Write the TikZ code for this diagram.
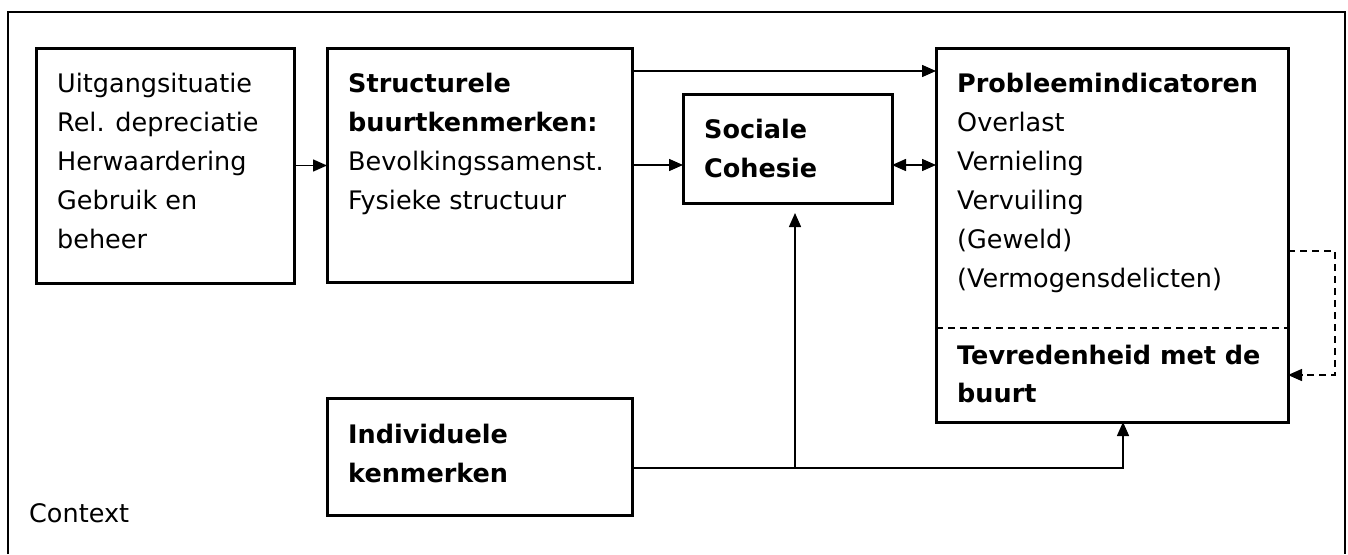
\documentclass[tikz,border=0pt]{standalone}
\usepackage{fontspec}
\setmainfont{DejaVu Sans}
\usetikzlibrary{arrows.meta}
\tikzset{
  box/.style={draw, line width=3pt, outer sep=0pt, inner sep=0pt},
  txt/.style={anchor=north west, inner sep=0pt, align=left, font=\fontsize{25.5}{39}\selectfont},
  arr/.style={line width=1.5pt, -{Triangle[length=14pt,width=12pt]}},
  dblarr/.style={line width=1.5pt, {Triangle[length=14pt,width=12pt]}-{Triangle[length=14pt,width=12pt]}},
  dashline/.style={line width=1.5pt, dash pattern=on 7pt off 5pt},
}
\begin{document}
\begin{tikzpicture}[x=1pt,y=-1pt]
    \useasboundingbox (0,0) rectangle (1348,554);
    %kader
    \draw[line width=2pt] (8,554) -- (8,12) -- (1345,12) -- (1345,554);
    \node[txt, anchor=base west] (context) at (29,522) {Context};

    %blokken
    \node[box, minimum width=258pt, minimum height=235pt] (uitg) at (165,165.5) {};
    \node[box, minimum width=305pt, minimum height=234pt] (struct) at (479.5,165) {};
    \node[box, minimum width=209pt, minimum height=109pt] (cohesie) at (787.5,148.5) {};
    \node[box, minimum width=352pt, minimum height=374pt] (probleem) at (1112,235) {};
    \node[box, minimum width=305pt, minimum height=117pt] (indiv) at (479.5,456.5) {};

    %teksten
    \node[txt] (uitgtxt) at ([shift={(21,16.7)}]uitg.north west)
      {\strut Uitgangsituatie\\Rel. depreciatie\\Herwaardering\\Gebruik en\\beheer};
    \node[txt] (structtxt) at ([shift={(21,16.7)}]struct.north west)
      {\strut\textbf{Structurele}\\\textbf{buurtkenmerken:}\\Bevolkingssamenst.\\Fysieke structuur};
    \node[txt] (cohesietxt) at ([shift={(21,16.7)}]cohesie.north west)
      {\strut\textbf{Sociale}\\\textbf{Cohesie}};
    \node[txt] (probleemtxt) at ([shift={(21,16.7)}]probleem.north west)
      {\strut\textbf{Probleemindicatoren}\\Overlast\\Vernieling\\Vervuiling\\(Geweld)\\(Vermogensdelicten)};
    \node[txt] (indivtxt) at ([shift={(21,17.7)}]indiv.north west)
      {\strut\textbf{Individuele}\\\textbf{kenmerken}};

    %tevredenheid
    \coordinate (scheid) at (0,328);
    \draw[dashline] (probleem.west |- scheid) -- (probleem.east |- scheid);
    \node[txt, font=\fontsize{25.5}{38}\selectfont] (tevredentxt) at ([shift={(21,9.7)}]probleem.west |- scheid)
      {\strut\textbf{Tevredenheid met de}\\\textbf{buurt}};

    %pijlen
    \draw[arr] (uitg.east) -- (uitg.east -| struct.west);
    \draw[arr] (struct.east) -- (struct.east -| cohesie.west);
    \draw[arr] ([yshift=-23]struct.north east) -- ([yshift=-23]struct.north east -| probleem.west);
    \draw[dblarr] (struct.east -| cohesie.east) -- (struct.east -| probleem.west);

    %individuele kenmerken
    \coordinate (split) at (795,468);
    \draw[line width=1.5pt] (indiv.east |- split) -- (split);
    \draw[arr] (split) -- (split |- 0,213);
    \draw[arr] (split) -| ([xshift=11]probleem.south);

    %terugkoppeling
    \draw[dashline, -{Triangle[length=14pt,width=12pt]}] (probleem.east |- 0,251) -- (1335,251)
      -- (1335,375) -- (probleem.east |- 0,375);
\end{tikzpicture}
\end{document}
